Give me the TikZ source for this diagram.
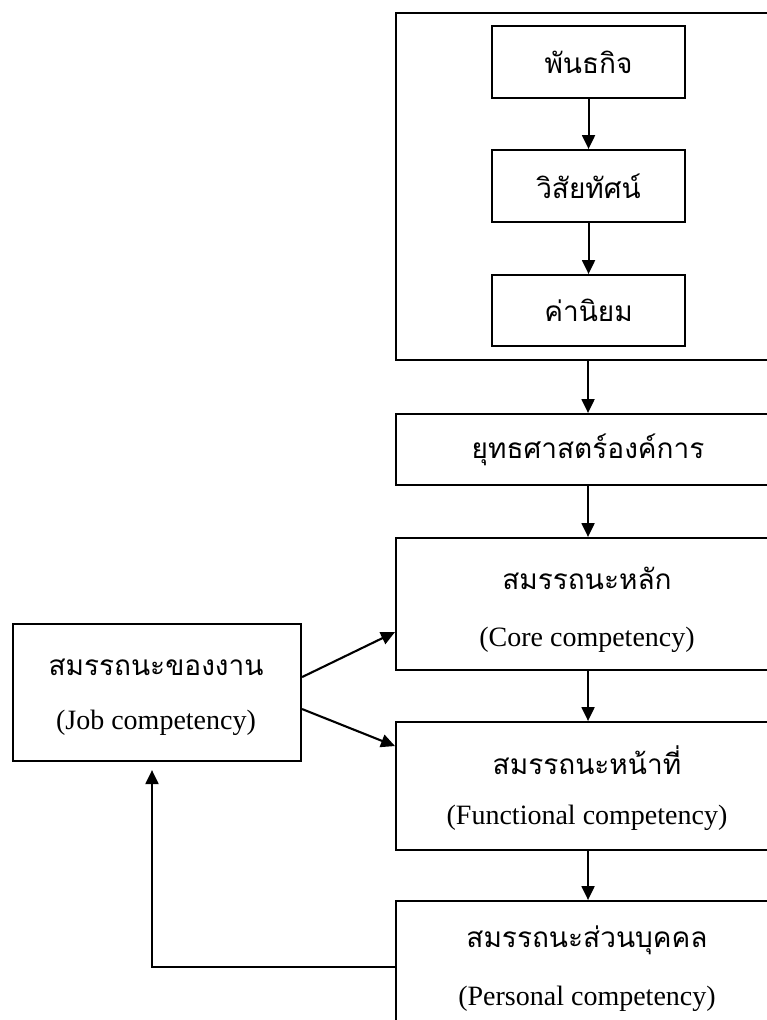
\documentclass[tikz,border=0pt]{standalone}
\usepackage{fontspec}
\setmainfont{Liberation Serif}
\newfontfamily\thai[Script=Thai]{Loma}
\usetikzlibrary{arrows.meta}
\tikzset{
  box/.style={draw, line width=2.1pt, rectangle, inner sep=0pt, anchor=north west},
  th/.style={font=\thai\fontsize{28}{32}\selectfont, inner sep=0pt},
  en/.style={font=\fontsize{28}{32}\selectfont, inner sep=0pt},
  arr/.style={line width=2.1pt, -{Triangle[length=14pt,width=13pt]}}
}
\begin{document}
\begin{tikzpicture}[x=1pt,y=-1pt]
\useasboundingbox (0,0) rectangle (767,1020);
\clip (0,0) rectangle (767,1020);
% right column
\node[box, minimum width=384pt, minimum height=347pt] (outer) at (395,12) {};
\node[box, minimum width=193pt, minimum height=72pt] (mission) at (491,25) {};
\node[box, minimum width=193pt, minimum height=72pt] (vision) at (491,149) {};
\node[box, minimum width=193pt, minimum height=71pt] (values) at (491,274) {};
\node[box, minimum width=384pt, minimum height=71pt] (strategy) at (395,413) {};
\node[box, minimum width=384pt, minimum height=132pt] (core) at (395,537) {};
\node[box, minimum width=384pt, minimum height=128pt] (func) at (395,721) {};
\node[box, minimum width=384pt, minimum height=140pt] (pers) at (395,900) {};
\node[box, minimum width=288pt, minimum height=137pt] (job) at (12,623) {};
% texts
\node[th] (tmission) at (mission.center) {พันธกิจ};
\node[th] (tvision) at (vision.center) {วิสัยทัศน์};
\node[th] (tvalues) at (values.center) {ค่านิยม};
\node[th] (tstrategy) at (strategy.center) {ยุทธศาสตร์องค์การ};
\node[th] (tcore) at (587,578) {สมรรถนะหลัก};
\node[en] (ecore) at (587,640) {(Core competency)};
\node[th] (tfunc) at (587,760) {สมรรถนะหน้าที่};
\node[en] (efunc) at (587,818) {(Functional competency)};
\node[th] (tpers) at (587,940) {สมรรถนะส่วนบุคคล};
\node[en] (epers) at (587,999) {(Personal competency)};
\node[th] (tjob) at (156,667) {สมรรถนะของงาน};
\node[en] (ejob) at (156,723) {(Job competency)};
% connectors
\draw[arr] (mission.south) -- (vision.north);
\draw[arr] (vision.south) -- (values.north);
\draw[arr] (outer.south) -- (strategy.north);
\draw[arr] (strategy.south) -- (core.north);
\draw[arr] (core.south) -- (func.north);
\draw[arr] (func.south) -- (pers.north);
\draw[arr] ([yshift=15.5pt]job.east) -- ([yshift=-28pt]core.west);
\draw[arr] ([yshift=-16.5pt]job.east) -- ([yshift=40pt]func.west);
\coordinate (fb) at (152,967);
\draw[arr] (fb -| pers.west) -- (fb) -- ([yshift=-8pt]fb |- job.south);
\end{tikzpicture}
\end{document}
